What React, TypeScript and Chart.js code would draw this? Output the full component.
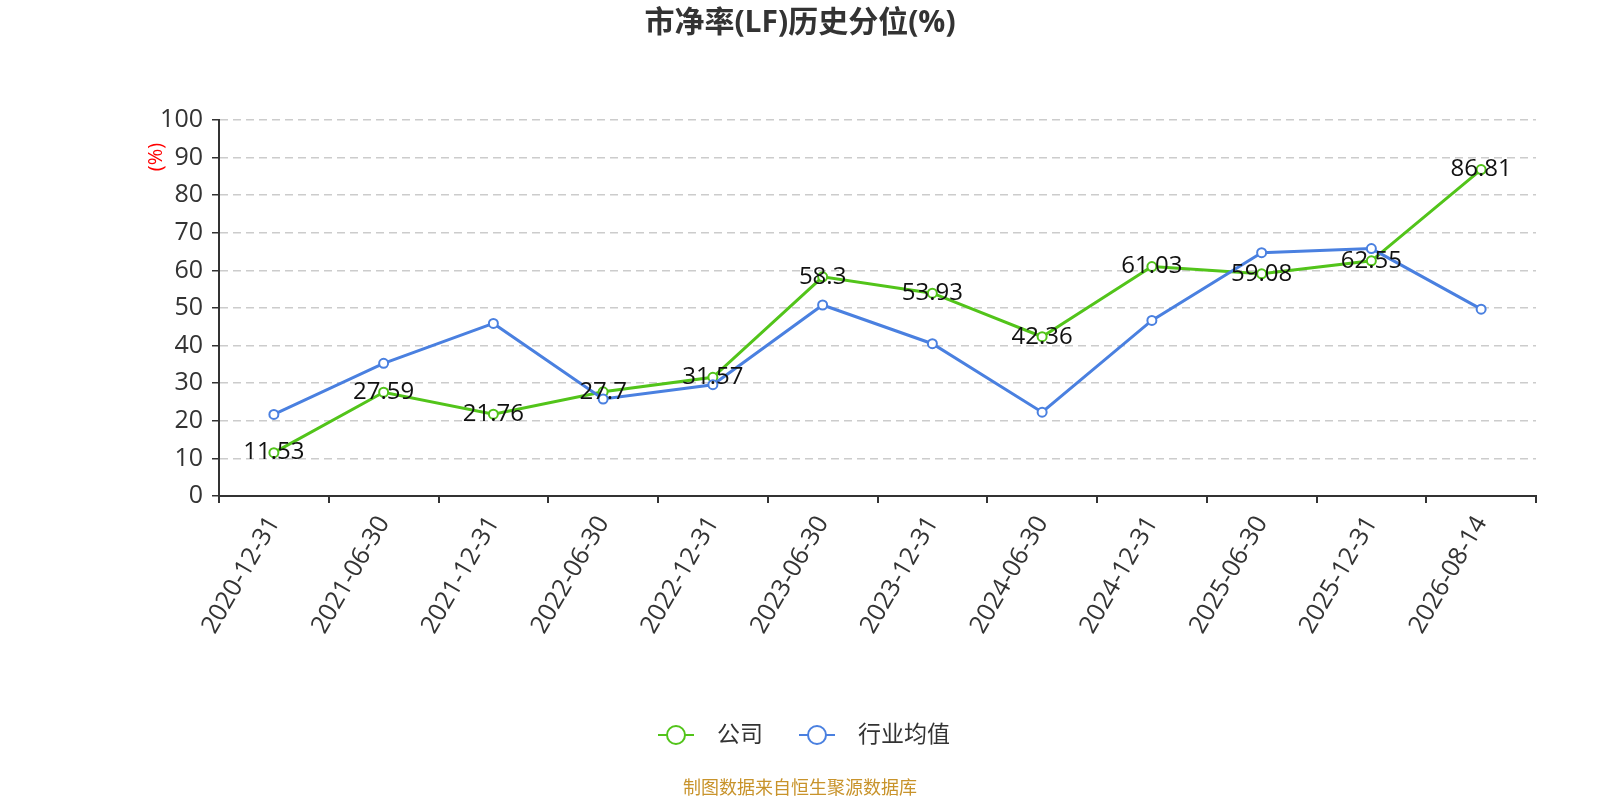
import { useEffect, useRef } from 'react'
import { Chart, registerables } from 'chart.js'

Chart.register(...registerables)

const dates = [
  '2020-12-31', '2021-06-30', '2021-12-31', '2022-06-30', '2022-12-31', '2023-06-30',
  '2023-12-31', '2024-06-30', '2024-12-31', '2025-06-30', '2025-12-31', '2026-08-14',
]
const company = [11.53, 27.59, 21.76, 27.7, 31.57, 58.3, 53.93, 42.36, 61.03, 59.08, 62.55, 86.81]
const industry = [21.7, 35.3, 45.9, 25.8, 29.6, 50.8, 40.5, 22.3, 46.7, 64.7, 65.8, 49.7]

const GREEN = '#52c41a'
const BLUE = '#4a80e0'
const FONT = '"Open Sans", "Noto Sans CJK SC", sans-serif'

const decorPlugin = {
  id: 'decor',
  afterDatasetsDraw(chart: Chart) {
    const ctx = chart.ctx
    ctx.save()
    // value labels on company series
    const meta = chart.getDatasetMeta(0)
    ctx.font = `24px ${FONT}`
    ctx.fillStyle = '#111'
    ctx.textAlign = 'center'
    ctx.textBaseline = 'middle'
    meta.data.forEach((pt: any, i: number) => {
      ctx.fillText(String(company[i]), pt.x, pt.y)
    })
    ctx.restore()
  },
  afterDraw(chart: Chart) {
    const ctx = chart.ctx
    ctx.save()
    // title
    ctx.font = `bold 30px ${FONT}`
    ctx.fillStyle = '#333'
    ctx.textAlign = 'center'
    ctx.textBaseline = 'middle'
    ctx.fillText('市净率(LF)历史分位(%)', 800, 23)

    // y axis unit
    ctx.save()
    ctx.translate(156, 157)
    ctx.rotate(-Math.PI / 2)
    ctx.font = `20px ${FONT}`
    ctx.fillStyle = '#ff0000'
    ctx.fillText('(%)', 0, 0)
    ctx.restore()

    // legend
    const items = [
      { label: '公司', color: GREEN, x: 658 },
      { label: '行业均值', color: BLUE, x: 799 },
    ]
    items.forEach((it) => {
      const y = 735
      ctx.strokeStyle = it.color
      ctx.lineWidth = 2
      ctx.beginPath()
      ctx.moveTo(it.x, y)
      ctx.lineTo(it.x + 36, y)
      ctx.stroke()
      ctx.beginPath()
      ctx.arc(it.x + 18, y, 9, 0, Math.PI * 2)
      ctx.fillStyle = '#fff'
      ctx.fill()
      ctx.stroke()
      ctx.font = `23px ${FONT}`
      ctx.fillStyle = '#333'
      ctx.textAlign = 'left'
      ctx.fillText(it.label, it.x + 59, y)
    })

    // source
    ctx.font = `18px ${FONT}`
    ctx.fillStyle = '#c8932b'
    ctx.textAlign = 'center'
    ctx.fillText('制图数据来自恒生聚源数据库', 800, 789)
    ctx.restore()
  },
}

export default function App() {
  const canvasRef = useRef<HTMLCanvasElement>(null)
  const chartRef = useRef<Chart | null>(null)

  useEffect(() => {
    document.body.style.margin = '0'
    document.body.style.overflow = 'hidden'
    if (!canvasRef.current) return
    if (chartRef.current) chartRef.current.destroy()
    const ctx = canvasRef.current.getContext('2d')
    if (!ctx) return

    chartRef.current = new Chart(ctx, {
      type: 'line',
      data: {
        labels: dates,
        datasets: [
          {
            label: '公司',
            data: company,
            borderColor: GREEN,
            backgroundColor: '#fff',
            borderWidth: 3,
            pointRadius: 4.5,
            pointBorderWidth: 2,
            pointBorderColor: GREEN,
            pointBackgroundColor: '#fff',
            tension: 0,
            order: 1,
          },
          {
            label: '行业均值',
            data: industry,
            borderColor: BLUE,
            backgroundColor: '#fff',
            borderWidth: 3,
            pointRadius: 4.5,
            pointBorderWidth: 2,
            pointBorderColor: BLUE,
            pointBackgroundColor: '#fff',
            tension: 0,
            order: 0,
          },
        ],
      },
      options: {
        responsive: false,
        animation: false,
        devicePixelRatio: 1,
        layout: { padding: { left: 159, top: 120, right: 64, bottom: 164 } },
        plugins: {
          legend: { display: false },
          tooltip: { enabled: false },
          title: { display: false },
        },
        scales: {
          x: {
            offset: true,
            afterFit: (s: any) => { s.height = 140 },
            grid: {
              offset: true,
              drawOnChartArea: false,
              drawTicks: true,
              tickLength: 7,
              tickColor: '#333',
              lineWidth: 2,
            },
            border: { display: true, color: '#333', width: 2 },
            ticks: {
              maxRotation: 60,
              minRotation: 60,
              autoSkip: false,
              padding: 8,
              color: '#333',
              font: { size: 25, family: FONT },
            },
          },
          y: {
            min: 0,
            max: 100,
            afterFit: (s: any) => { s.width = 60 },
            grid: {
              color: '#cccccc',
              lineWidth: 1.5,
              tickColor: '#333',
              tickLength: 7,
              tickBorderDash: [],
            },
            border: { display: true, color: '#333', width: 2, dash: [8, 5] },
            ticks: {
              stepSize: 10,
              padding: 9,
              color: '#333',
              font: { size: 25, family: FONT },
            },
          },
        },
      },
      plugins: [decorPlugin],
    })

    return () => {
      if (chartRef.current) chartRef.current.destroy()
    }
  }, [])

  return (
    <div style={{ position: 'fixed', left: 0, top: 0, width: 1600, height: 800, background: '#fff', overflow: 'hidden' }}>
      <canvas ref={canvasRef} width={1600} height={800} style={{ display: 'block', width: 1600, height: 800 }} />
    </div>
  )
}
